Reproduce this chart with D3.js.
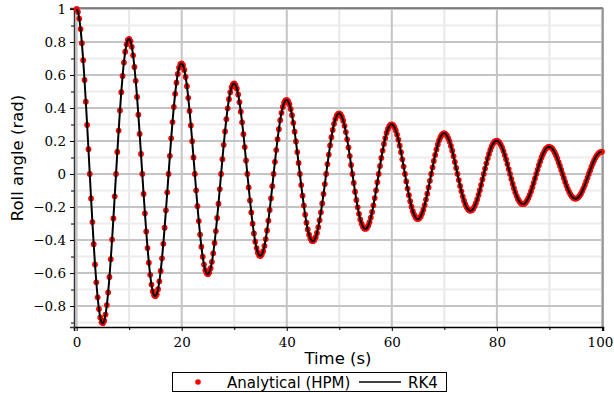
<!DOCTYPE html>
<html>
<head>
<meta charset="utf-8">
<script src="https://cdn.jsdelivr.net/npm/d3@7"></script>
<style>
  html, body { margin: 0; padding: 0; background: #fff; }
  svg { display: block; }
</style>
</head>
<body>
<div id="chart"></div>
<script>
// roll angle (rad), sampled every 0.25 s from 0 to 100 s (one row = half a period)
const timeStep = 0.25;
const rollAngle = [
  1, .983, .942, .878, .793, .690, .570, .438, .297, .150, 0, -.148, -.291, -.425, -.548, -.656, -.747, -.818, -.869, -.898,
  -.905, -.889, -.852, -.794, -.718, -.624, -.516, -.397, -.269, -.135, 0, .134, .263, .385, .496, .594, .676, .741, .786, .813,
  .819, .805, .771, .719, .649, .565, .467, .359, .243, .122, 0, -.121, -.238, -.348, -.449, -.537, -.611, -.670, -.712, -.735,
  -.741, -.728, -.698, -.650, -.587, -.511, -.423, -.325, -.220, -.111, 0, .110, .216, .315, .406, .486, .553, .606, .644, .665,
  .670, .659, .631, .588, .532, .462, .382, .294, .199, .100, 0, -.099, -.195, -.285, -.367, -.440, -.501, -.549, -.583, -.602,
  -.607, -.596, -.571, -.532, -.481, -.418, -.346, -.266, -.180, -.091, 0, .090, .177, .258, .332, .398, .453, .496, .527, .545,
  .549, .539, .517, .482, .435, .378, .313, .241, .163, .082, 0, -.081, -.160, -.233, -.301, -.360, -.410, -.449, -.477, -.493,
  -.497, -.488, -.468, -.436, -.394, -.342, -.283, -.218, -.147, -.074, 0, .074, .145, .211, .272, .326, .371, .406, .432, .446,
  .449, .442, .423, .394, .356, .310, .256, .197, .133, .067, 0, -.067, -.131, -.191, -.246, -.295, -.336, -.368, -.391, -.404,
  -.407, -.400, -.383, -.357, -.322, -.280, -.232, -.178, -.121, -.061, 0, .060, .118, .173, .223, .267, .304, .333, .353, .365,
  .368, .362, .346, .323, .292, .254, .210, .161, .109, .055, 0, -.054, -.107, -.157, -.202, -.241, -.275, -.301, -.320, -.330,
  -.333, -.327, -.313, -.292, -.264, -.230, -.190, -.146, -.099, -.050, 0, .049, .097, .142, .182, .218, .249, .272, .289, .299,
  .301, .296, .284, .264, .239, .208, .172, .132, .089, .045, 0, -.045, -.088, -.128, -.165, -.198, -.225, -.246, -.262, -.271,
  -.273, -.268, -.257, -.239, -.216, -.188, -.155, -.119, -.081, -.041, 0, .040, .079, .116, .149, .179, .204, .223, .237, .245,
  .247, .242, .232, .216, .196, .170, .141, .108, .073, .037, 0, -.037, -.072, -.105, -.135, -.162, -.184, -.202, -.214, -.221,
  -.223, -.219, -.210, -.196, -.177, -.154, -.127, -.098, -.066, -.033, 0, .033, .065, .095, .122, .146, .167, .183, .194, .200,
  .202, .198, .190, .177, .160, .139, .115, .089, .060, .030, 0, -.030, -.059, -.086, -.111, -.132, -.151, -.165, -.175, -.181,
  -.183, -.180, -.172, -.160, -.145, -.126, -.104, -.080, -.054, -.027, 0, .027, .053, .078, .100, .120, .136, .150, .159, .164,
  .165, .162, .156, .145, .131, .114, .094, .072, .049, .025, 0, -.024, -.048, -.070, -.091, -.108, -.123, -.135, -.144, -.148,
  -.150, -.147, -.141, -.131, -.119, -.103, -.085, -.066, -.044, -.022, 0, .022, .044, .064, .082, .098, .112, .122, .130, .134,
  .135
];

const xTicks = [0, 20, 40, 60, 80, 100];
const xMinorTicks = [10, 30, 50, 70, 90];
const yTicks = [-0.8, -0.6, -0.4, -0.2, 0, 0.2, 0.4, 0.6, 0.8, 1];
const yTickLabels = ['\u22120.8', '\u22120.6', '\u22120.4', '\u22120.2', '0', '0.2', '0.4', '0.6', '0.8', '1'];
const yMinorTicks = [-0.9, -0.7, -0.5, -0.3, -0.1, 0.1, 0.3, 0.5, 0.7, 0.9];
const seriesNames = ['Analytical (HPM)', 'RK4'];

const width = 614;
const height = 393;
const plot = { left: 74, right: 603, top: 8, bottom: 327 };

const points = rollAngle.map((v, i) => ({ t: i * timeStep, v: v }));

const svg = d3.select('#chart')
  .append('svg')
  .attr('width', width)
  .attr('height', height);

const xScale = d3.scaleLinear()
  .domain([-0.5, 100.2])
  .range([plot.left, plot.right]);

const yScale = d3.scaleLinear()
  .domain([-0.927, 1.006])
  .range([plot.bottom, plot.top]);

// grid
const grid = svg.append('g');
grid.selectAll('.vminor').data(xMinorTicks).enter().append('line')
  .attr('x1', d => xScale(d)).attr('x2', d => xScale(d))
  .attr('y1', plot.top).attr('y2', plot.bottom)
  .attr('stroke', '#e8e8e8').attr('stroke-width', 2);
grid.selectAll('.hminor').data(yMinorTicks).enter().append('line')
  .attr('x1', plot.left).attr('x2', plot.right)
  .attr('y1', d => yScale(d)).attr('y2', d => yScale(d))
  .attr('stroke', '#ececec').attr('stroke-width', 2);
grid.selectAll('.vmajor').data(xTicks).enter().append('line')
  .attr('x1', d => xScale(d)).attr('x2', d => xScale(d))
  .attr('y1', plot.top).attr('y2', plot.bottom)
  .attr('stroke', '#c4c4c4').attr('stroke-width', 2);
grid.selectAll('.hmajor').data(yTicks).enter().append('line')
  .attr('x1', plot.left).attr('x2', plot.right)
  .attr('y1', d => yScale(d)).attr('y2', d => yScale(d))
  .attr('stroke', '#c4c4c4').attr('stroke-width', 2);

// frame (top and right)
svg.append('line')
  .attr('x1', plot.left).attr('x2', plot.right)
  .attr('y1', plot.top).attr('y2', plot.top)
  .attr('stroke', '#666').attr('stroke-width', 1.5);
svg.append('line')
  .attr('x1', plot.right).attr('x2', plot.right)
  .attr('y1', plot.top).attr('y2', plot.bottom)
  .attr('stroke', '#888').attr('stroke-width', 1.5);

// axes
const xAxis = d3.axisBottom(xScale)
  .tickValues(xTicks)
  .tickSize(4)
  .tickFormat(d3.format('d'));
const gx = svg.append('g')
  .attr('transform', `translate(0,${plot.bottom})`)
  .call(xAxis);
gx.select('.domain').attr('stroke', '#000').attr('stroke-width', 1.5);
gx.selectAll('text')
  .attr('font-family', 'DejaVu Serif')
  .attr('font-size', 13.5)
  .attr('fill', '#000')
  .attr('dy', '0.95em')
  .attr('dx', d => d === 100 ? -2 : 0);
svg.append('g')
  .attr('transform', `translate(0,${plot.bottom})`)
  .call(d3.axisBottom(xScale).tickValues(xMinorTicks).tickSize(3).tickFormat(''))
  .select('.domain').remove();

const yAxis = d3.axisLeft(yScale)
  .tickValues(yTicks)
  .tickSize(4)
  .tickFormat((d, i) => yTickLabels[i]);
const gy = svg.append('g')
  .attr('transform', `translate(${plot.left},0)`)
  .call(yAxis);
gy.select('.domain').attr('stroke', '#333').attr('stroke-width', 1.5);
gy.selectAll('text')
  .attr('font-family', 'DejaVu Serif')
  .attr('font-size', 13.5)
  .attr('fill', '#000')
  .attr('x', -8);
svg.append('g')
  .attr('transform', `translate(${plot.left},0)`)
  .call(d3.axisLeft(yScale).tickValues(yMinorTicks).tickSize(3).tickFormat(''))
  .select('.domain').remove();

// analytical points
svg.append('g')
  .selectAll('circle')
  .data(points)
  .enter()
  .append('circle')
  .attr('cx', d => xScale(d.t))
  .attr('cy', d => yScale(d.v))
  .attr('r', 2.9)
  .attr('fill', '#ff0000');

// RK4 line
const line = d3.line()
  .x(d => xScale(d.t))
  .y(d => yScale(d.v))
  .curve(d3.curveCatmullRom);
svg.append('path')
  .datum(points)
  .attr('fill', 'none')
  .attr('stroke', '#000')
  .attr('stroke-width', 2)
  .attr('d', line);

// axis titles
svg.append('text')
  .attr('x', 338)
  .attr('y', 364)
  .attr('text-anchor', 'middle')
  .attr('font-family', 'DejaVu Sans')
  .attr('font-size', 16.5)
  .text('Time (s)');
svg.append('text')
  .attr('transform', 'translate(23,158) rotate(-90)')
  .attr('text-anchor', 'middle')
  .attr('font-family', 'DejaVu Sans')
  .attr('font-size', 16.5)
  .text('Roll angle (rad)');

// legend
const legend = svg.append('g');
legend.append('rect')
  .attr('x', 172.5).attr('y', 372.5)
  .attr('width', 274).attr('height', 19)
  .attr('fill', '#fff')
  .attr('stroke', '#000');
legend.append('circle')
  .attr('cx', 198).attr('cy', 382)
  .attr('r', 2.8)
  .attr('fill', '#ff0000');
legend.append('text')
  .attr('x', 227).attr('y', 387.5)
  .attr('font-family', 'DejaVu Sans')
  .attr('font-size', 15)
  .text(seriesNames[0]);
legend.append('line')
  .attr('x1', 359).attr('x2', 401)
  .attr('y1', 382).attr('y2', 382)
  .attr('stroke', '#000').attr('stroke-width', 1.5);
legend.append('text')
  .attr('x', 408).attr('y', 387.5)
  .attr('font-family', 'DejaVu Sans')
  .attr('font-size', 15)
  .text(seriesNames[1]);
</script>
</body>
</html>
